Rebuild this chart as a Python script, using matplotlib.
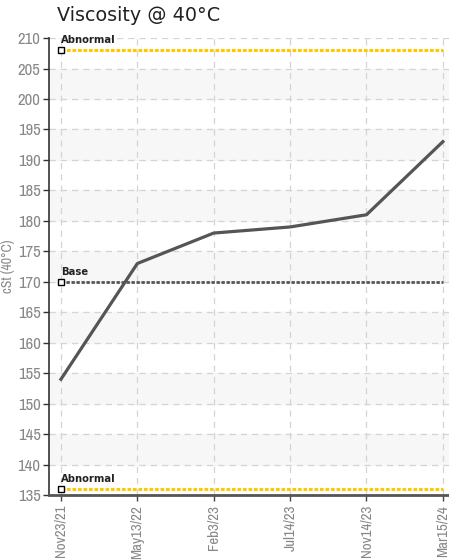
import numpy as np
import matplotlib
matplotlib.use('Agg')
import matplotlib.pyplot as plt

# Sample dates and viscosity readings
dates = ['Nov23/21', 'May13/22', 'Feb3/23', 'Jul14/23', 'Nov14/23', 'Mar15/24']
viscosity = [154, 173, 178, 179, 181, 193]

# Limit lines
abnormal_high = 208
abnormal_low = 136
base = 170

y_ticks = list(range(135, 211, 5))

tick_color = '#888888'
narrow = ['Archivo Narrow', 'DejaVu Sans']
cond = dict(family='DejaVu Sans', stretch='condensed')

fig = plt.figure(figsize=(4.49, 5.6), dpi=100)
ax = fig.add_axes([0.109, 0.116, 0.891, 0.816])

x = np.arange(len(dates))
ax.set_xlim(-0.157, len(dates) - 1 + 0.08)
ax.set_ylim(135, 210)

# alternating background bands
for lo in range(140, 210, 10):
    ax.axhspan(lo, lo + 5, color='#f7f7f7', zorder=0)

ax.set_yticks(y_ticks)
ax.set_yticklabels([str(v) for v in y_ticks], fontsize=12, color=tick_color, family=narrow)
ax.set_xticks(x)
ax.set_xticklabels(dates, rotation=90, fontsize=10.8, color=tick_color, family=narrow)
ax.tick_params(axis='y', color='#333333', length=4, width=1, pad=2)
ax.tick_params(axis='x', color='#444444', length=4, width=1, pad=3)
ax.grid(True, color='#d4d4d4', linestyle=(0, (5, 4)), linewidth=0.9, zorder=1)

for s in ['top', 'right']:
    ax.spines[s].set_visible(False)
ax.spines['left'].set_color('#333333')
ax.spines['left'].set_linewidth(1.2)
ax.spines['bottom'].set_color('#555555')
ax.spines['bottom'].set_linewidth(2)

# limit lines
ax.plot([0, len(dates) - 1], [abnormal_high] * 2, color='#ffc800', lw=2.2,
        linestyle=(0, (1.2, 0.6)), zorder=3)
ax.plot([0, len(dates) - 1], [abnormal_low] * 2, color='#ffc800', lw=2.2,
        linestyle=(0, (1.2, 0.6)), zorder=3)
ax.plot([0, len(dates) - 1], [base] * 2, color='#555555', lw=2,
        linestyle=(0, (1.2, 0.6)), zorder=3)
for val, name in [(abnormal_high, 'Abnormal'), (base, 'Base'), (abnormal_low, 'Abnormal')]:
    ax.plot(0, val, marker='s', ms=4.5, mfc='white', mec='black', mew=1, zorder=5)
    ax.text(0, val + 0.8, name, fontsize=8, color='#222222', fontweight='bold',
            ha='left', va='bottom', zorder=5, **cond)

# viscosity trend
ax.plot(x, viscosity, color='#555555', lw=2.3, zorder=4)

ax.set_ylabel('cSt (40°C)', fontsize=10, color=tick_color, family=narrow)
ax.yaxis.set_label_coords(-0.085, 0.5)
fig.text(0.127, 0.973, 'Viscosity @ 40°C', fontsize=13.8, color='#222222',
         ha='left', va='center')

plt.savefig('out.png', dpi=100)
